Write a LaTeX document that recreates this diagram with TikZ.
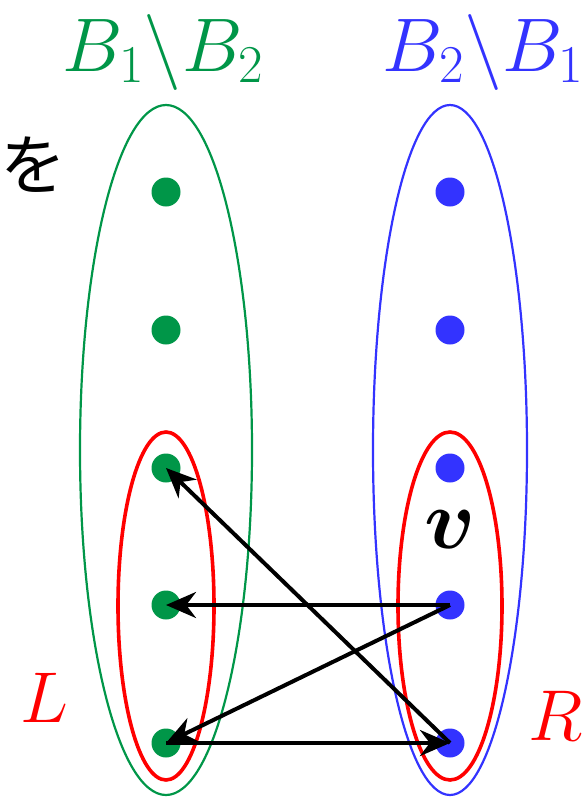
\RequirePackage{fix-cm}
\documentclass[tikz,border=0pt]{standalone}
\usepackage{amsmath}
\usepackage{bm}
\usepackage{fontspec}
\newfontfamily\cjk{Noto Sans CJK JP}
\usetikzlibrary{shapes.geometric,arrows.meta}
\definecolor{setgreen}{RGB}{0,150,72}
\definecolor{setblue}{RGB}{51,51,255}
\definecolor{setred}{RGB}{255,0,0}
\tikzset{
  gdot/.style={circle,fill=setgreen,inner sep=0pt,minimum size=29pt},
  bdot/.style={circle,fill=setblue,inner sep=0pt,minimum size=29pt},
  bigset/.style={ellipse,draw,line width=2.2pt,inner sep=0pt},
  subset/.style={ellipse,draw=setred,line width=3.6pt,inner sep=0pt},
  edge/.style={line width=4pt,black,-{Stealth[length=30pt,width=26pt]}},
  lab/.style={inner sep=0pt,anchor=base}
}
\begin{document}
\begin{tikzpicture}[x=1pt,y=-1pt]
\useasboundingbox (0,0) rectangle (582,798);
% set ellipses
\node[bigset,draw=setgreen,minimum width=172pt,minimum height=690pt] (B12) at (166,450) {};
\node[bigset,draw=setblue,minimum width=154pt,minimum height=690pt] (B21) at (450,450) {};
\node[subset,minimum width=96pt,minimum height=348pt] (Lset) at (166,606) {};
\node[subset,minimum width=104pt,minimum height=348pt] (Rset) at (450,606) {};
% dots
\node[gdot] (l1) at (166,192) {};
\node[gdot] (l2) at (166,330) {};
\node[gdot] (l3) at (166,468) {};
\node[gdot] (l4) at (166,605) {};
\node[gdot] (l5) at (166,743) {};
\node[bdot] (r1) at (450,192) {};
\node[bdot] (r2) at (450,330) {};
\node[bdot] (r3) at (450,468) {};
\node[bdot] (r4) at (450,605) {};
\node[bdot] (r5) at (450,743) {};
% labels
\node[lab,text=setgreen] (tB12) at (163,71) {\fontsize{76}{80}\selectfont$B_1\backslash B_2$};
\node[lab,text=setblue] (tB21) at (483,71) {\fontsize{76}{80}\selectfont$B_2\backslash B_1$};
\node[lab,text=setred] (tL) at (44,722) {\fontsize{72}{76}\selectfont$L$};
\node[lab,text=setred] (tR) at (556,740) {\fontsize{72}{76}\selectfont$R$};
\node[lab] (tv) at (450,548) {\fontsize{85}{90}\selectfont$\bm{v}$};
\node[inner sep=0pt] (wo) at (34,165) {\cjk\fontsize{66}{70}\selectfont を};
% arrows
\draw[edge] (r5.center) -- (l3.center);
\draw[edge] (r4.center) -- (l4.center);
\draw[edge] (r4.center) -- (l5.center);
\draw[edge] (l5.center) -- (r5.center);
\end{tikzpicture}
\end{document}
